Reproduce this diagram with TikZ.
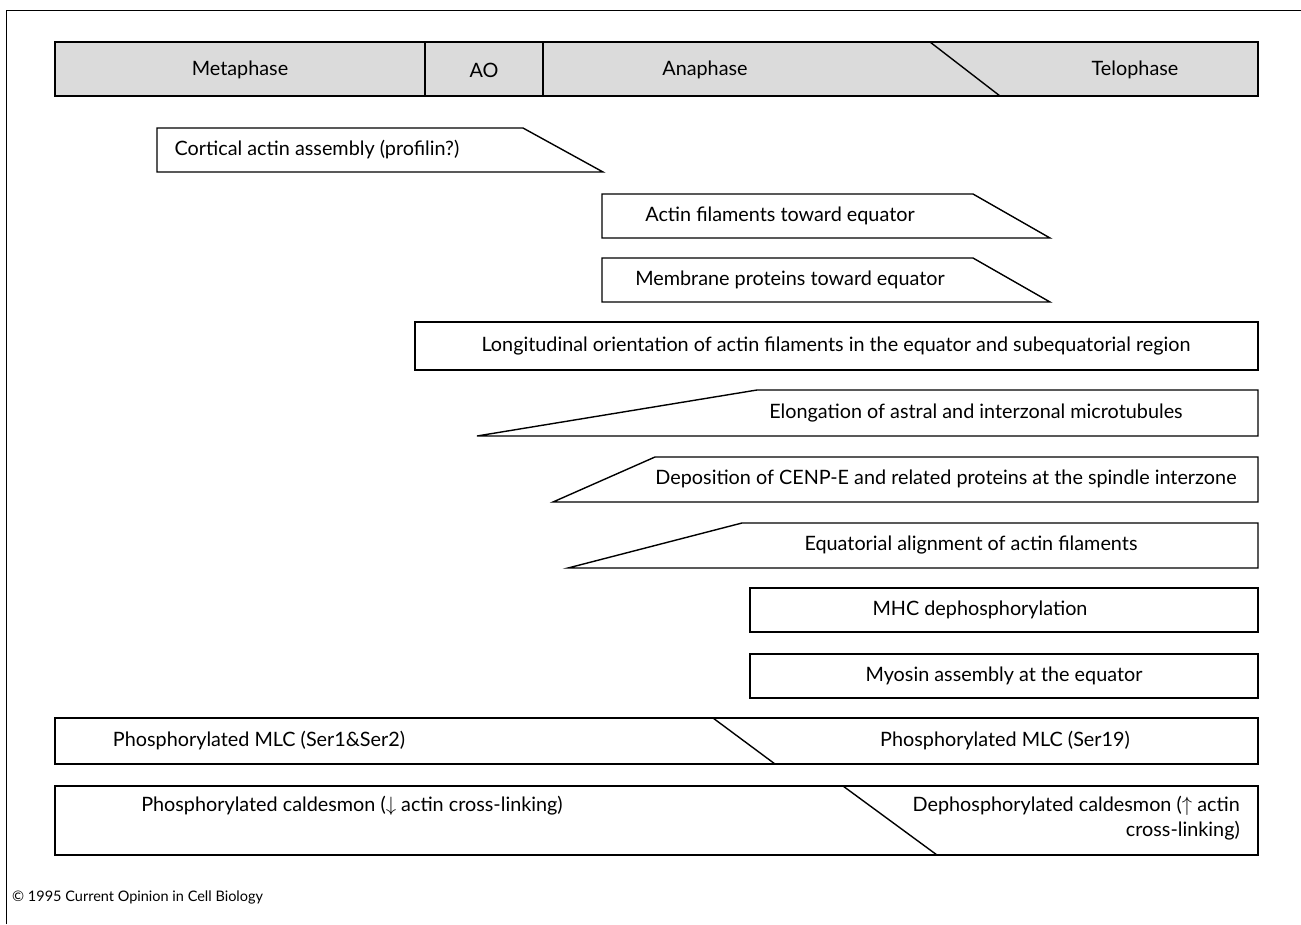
\documentclass[tikz,border=0pt]{standalone}
\usepackage{fontspec}
\setmainfont{Lato}
\begin{document}
\begin{tikzpicture}[x=1pt,y=-1pt,
    caja/.style={draw,line width=1.4pt,line join=miter},
    rotulo/.style={font=\fontsize{19.8}{25}\selectfont,inner sep=0pt}]
    \useasboundingbox (0,0) rectangle (1301,924);

    % Marco exterior
    \draw[line width=1pt] (6,924) -- (6,10) -- (1301,10);

    % Barra de las fases
    \fill[gray!28] (55,42) rectangle (1258,96);
    \draw[caja] (55,42) rectangle (1258,96);
    \draw[caja] (425,42) -- (425,96);
    \draw[caja] (543,42) -- (543,96);
    \draw[caja] (930,42) -- (1000,96);
    \node[rotulo] (meta) at (240,70) {Metaphase};
    \node[rotulo] (ao) at (484,70) {AO};
    \node[rotulo] (ana) at (705,70) {Anaphase};
    \node[rotulo] (telo) at (1135,70) {Telophase};

    % Ensamblaje de actina cortical
    \draw[caja] (157,128) -- (523,128) -- (603,172) -- (157,172) -- cycle;
    \node[rotulo] (cortical) at (317,150) {Cortical actin assembly (profilin?)};

    % Filamentos y proteinas hacia el ecuador
    \draw[caja] (602,194) -- (973,194) -- (1050,238) -- (602,238) -- cycle;
    \node[rotulo] (filamentos) at (780,216) {Actin filaments toward equator};
    \draw[caja] (602,258) -- (973,258) -- (1050,302) -- (602,302) -- cycle;
    \node[rotulo] (membrana) at (790,280) {Membrane proteins toward equator};

    % Orientacion longitudinal
    \draw[caja] (415,322) rectangle (1258,370);
    \node[rotulo] (longitudinal) at (836,346) {Longitudinal orientation of actin filaments in the equator and subequatorial region};

    % Cuñas que crecen hacia la derecha
    \draw[caja] (477,436) -- (757,390) -- (1258,390) -- (1258,436) -- cycle;
    \node[rotulo] (elongacion) at (976,413) {Elongation of astral and interzonal microtubules};
    \draw[caja] (553,502) -- (655,457) -- (1258,457) -- (1258,502) -- cycle;
    \node[rotulo] (deposicion) at (946,479) {Deposition of CENP-E and related proteins at the spindle interzone};
    \draw[caja] (568,568) -- (742,523) -- (1258,523) -- (1258,568) -- cycle;
    \node[rotulo] (alineamiento) at (971,545) {Equatorial alignment of actin filaments};

    % Miosina
    \draw[caja] (750,588) rectangle (1258,632);
    \node[rotulo] (mhc) at (980,610) {MHC dephosphorylation};
    \draw[caja] (750,654) rectangle (1258,698);
    \node[rotulo] (miosina) at (1004,676) {Myosin assembly at the equator};

    % Cadena ligera de miosina
    \draw[caja] (55,718) rectangle (1258,764);
    \draw[caja] (713,718) -- (775,764);
    \node[rotulo] (mlcizq) at (259,741) {Phosphorylated MLC (Ser1\&Ser2)};
    \node[rotulo] (mlcder) at (1005,741) {Phosphorylated MLC (Ser19)};

    % Caldesmon
    \draw[caja] (55,786) rectangle (1258,855);
    \draw[caja] (843,786) -- (937,855);
    \node[rotulo] (caldizq) at (352,806) {Phosphorylated caldesmon ($\downarrow$ actin cross-linking)};
    \node[rotulo,align=right,anchor=north east] (caldder) at (1240,796)
        {Dephosphorylated caldesmon ($\uparrow$ actin\\cross-linking)};

    % Pie
    \node[font=\fontsize{14.5}{16}\selectfont,inner sep=0pt,anchor=west] (pie) at (12,897) {\textcopyright{} 1995 Current Opinion in Cell Biology};
\end{tikzpicture}
\end{document}
